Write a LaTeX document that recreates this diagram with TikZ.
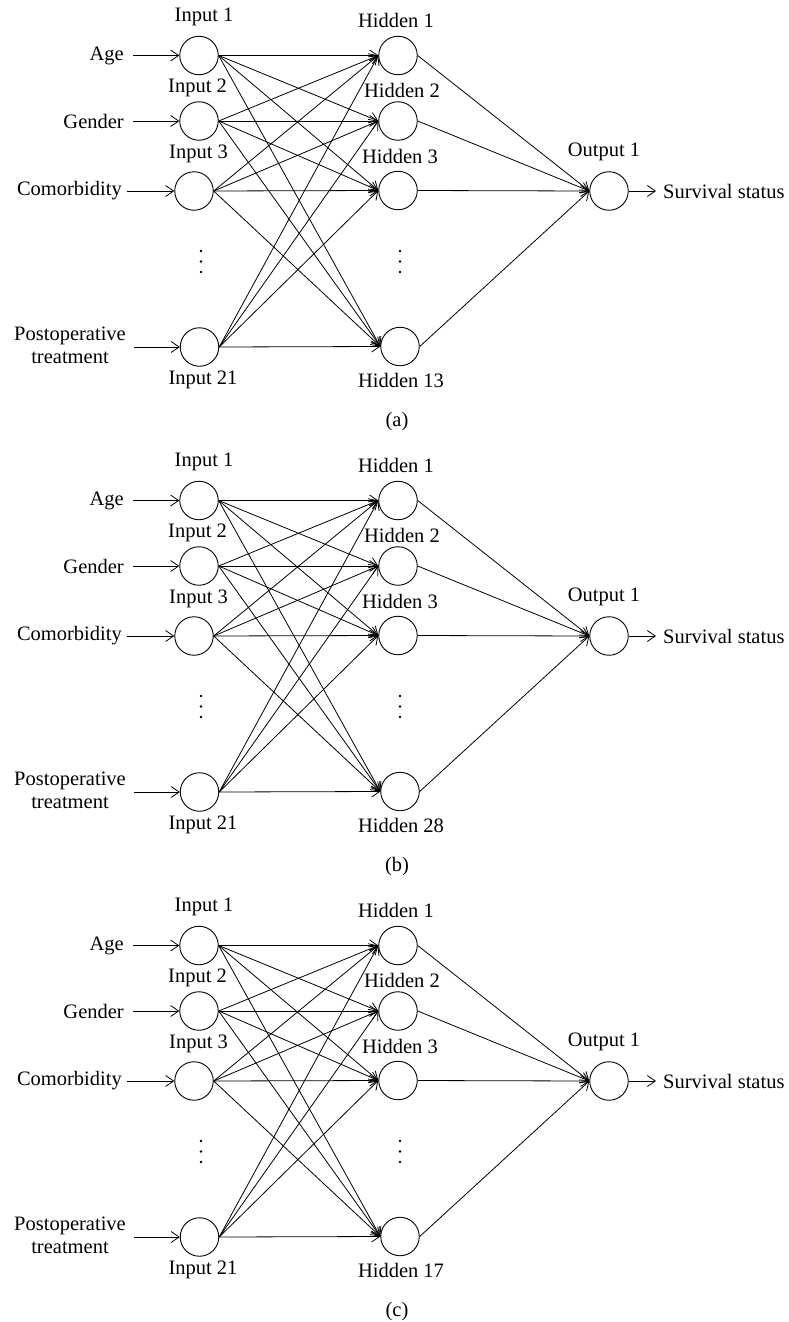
\documentclass[tikz,border=0pt]{standalone}
\usepackage{fontspec}
\setmainfont{Liberation Serif}
\usetikzlibrary{arrows.meta}
\begin{document}
\begin{tikzpicture}[x=1pt,y=-1pt,
  neuron/.style={circle,draw,line width=0.9pt,minimum size=38.5pt,inner sep=0pt},
  lbl/.style={font=\fontsize{20.5}{23}\selectfont,inner sep=0pt},
  conn/.style={line width=0.8pt,-{Straight Barb[length=8pt,width=11pt,line width=0.8pt]}},
  dotmark/.style={circle,fill,inner sep=0pt,minimum size=2.6pt}]
\useasboundingbox (0,0) rectangle (789,1322);
\foreach \p/\off/\hn in {a/0/13,b/445/28,c/890/17}{
\begin{scope}[yshift=-\off pt]
  % input neurons
  \node[neuron] (\p-i1) at (199,55.5) {};
  \node[neuron] (\p-i2) at (199,121) {};
  \node[neuron] (\p-i3) at (194,191) {};
  \node[neuron] (\p-i21) at (199.5,347) {};
  % hidden neurons
  \node[neuron] (\p-h1) at (398,55.5) {};
  \node[neuron] (\p-h2) at (398,121) {};
  \node[neuron] (\p-h3) at (398,190.5) {};
  \node[neuron] (\p-hn) at (400,346.5) {};
  % output neuron
  \node[neuron] (\p-o) at (609,191) {};
  % labels of neurons
  \node[lbl] (\p-li1) at (204,17) {Input 1};
  \node[lbl] (\p-li2) at (197.5,88) {Input 2};
  \node[lbl] (\p-li3) at (198.5,154) {Input 3};
  \node[lbl] (\p-li21) at (203,380) {Input 21};
  \node[lbl] (\p-lh1) at (396,20.5) {Hidden 1};
  \node[lbl] (\p-lh2) at (402,90) {Hidden 2};
  \node[lbl] (\p-lh3) at (400,156.5) {Hidden 3};
  \node[lbl] (\p-lhn) at (401,380.5) {Hidden \hn};
  \node[lbl] (\p-lo) at (604,152) {Output 1};
  % input variable names
  \node[lbl,anchor=east] (\p-age) at (124,56) {Age};
  \node[lbl,anchor=east] (\p-gen) at (124,121) {Gender};
  \node[lbl,anchor=east] (\p-com) at (122,191) {Comorbidity};
  \node[lbl,align=center] (\p-pos) at (70,345) {Postoperative\\treatment};
  \node[lbl,anchor=west] (\p-ss) at (663,191) {Survival status};
  % arrow starts
  \coordinate (\p-sa) at (133,55.5);
  \coordinate (\p-sg) at (133,121);
  \coordinate (\p-sc) at (127,191);
  \coordinate (\p-sp) at (134,347);
  \coordinate (\p-se) at (656,191);
  \draw[conn] (\p-sa) -- (\p-i1.west);
  \draw[conn] (\p-sg) -- (\p-i2.west);
  \draw[conn] (\p-sc) -- (\p-i3.west);
  \draw[conn] (\p-sp) -- (\p-i21.west);
  \draw[conn] (\p-o.east) -- (\p-se);
  % connections
  \foreach \i in {i1,i2,i3,i21}{
    \foreach \h in {h1,h2,h3,hn}{
      \draw[conn] (\p-\i.east) -- (\p-\h.west);
    }
  }
  \foreach \h in {h1,h2,h3,hn}{
    \draw[conn] (\p-\h.east) -- (\p-o.west);
  }
  % vertical dots
  \foreach \yy in {251,261.5,272}{
    \node[dotmark] at (201,\yy) {};
    \node[dotmark] at (400,\yy) {};
  }
  % caption
  \node[lbl] (\p-cap) at (397,422) {(\p)};
\end{scope}}
\end{tikzpicture}
\end{document}
